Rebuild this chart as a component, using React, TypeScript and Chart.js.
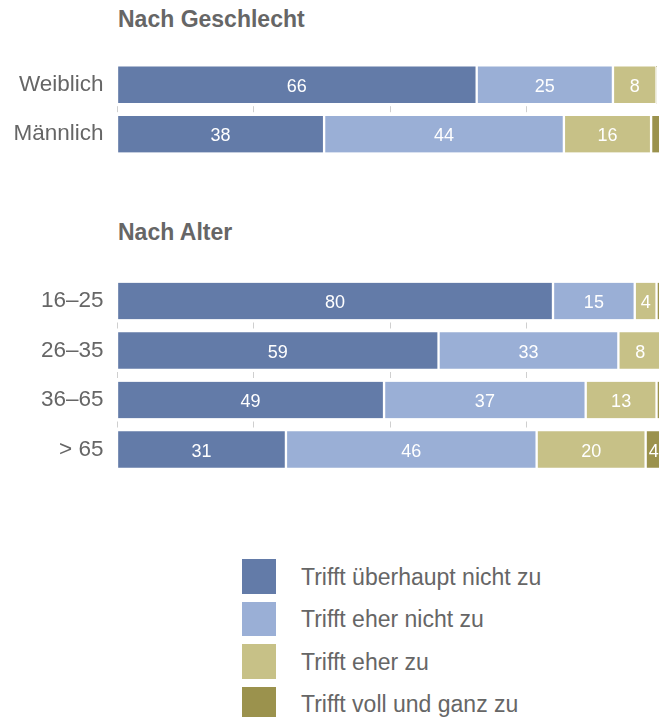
import React, { useEffect, useRef } from "react";
import { Chart, registerables } from "chart.js";

Chart.register(...registerables);

// ---- data ----
const genderTitle = "Nach Geschlecht";
const ageTitle = "Nach Alter";
const seriesNames = [
  "Trifft überhaupt nicht zu",
  "Trifft eher nicht zu",
  "Trifft eher zu",
  "Trifft voll und ganz zu",
];
const seriesColors = ["#637ba8", "#9aafd6", "#c7c187", "#9b924d"];

const genderCategories = ["Weiblich", "Männlich"];
const genderNotAtAll = [66, 38];
const genderRatherNot = [25, 44];
const genderRather = [8, 16];
const genderFully = [0, 2];

const ageCategories = ["16–25", "26–35", "36–65", "> 65"];
const ageNotAtAll = [80, 59, 49, 31];
const ageRatherNot = [15, 33, 37, 46];
const ageRather = [4, 8, 13, 20];
const ageFully = [1, 0, 2, 4];

const xTickValues = [0, 25, 50, 75, 100];
const minLabelValue = 3;

// ---- styles ----
const FONT = '"Liberation Sans", Arial, Helvetica, sans-serif';
const TEXT = "#666666";

const rowTicksPlugin = {
  id: "rowTicks",
  beforeDatasetsDraw(chart: any) {
    const { ctx } = chart;
    const x = chart.scales.x;
    const y = chart.scales.y;
    const n = chart.data.labels.length;
    ctx.save();
    ctx.strokeStyle = "#cfcfcf";
    ctx.lineWidth = 1;
    for (let i = 0; i < n - 1; i++) {
      const yc = y.getPixelForValue(i);
      for (const v of xTickValues) {
        const px = Math.round(x.getPixelForValue(v)) + 0.5;
        ctx.beginPath();
        ctx.moveTo(px, yc + 21.5);
        ctx.lineTo(px, yc + 27.5);
        ctx.stroke();
      }
    }
    ctx.restore();
  },
};

const valueLabelsPlugin = {
  id: "valueLabels",
  afterDatasetsDraw(chart: any) {
    const { ctx, chartArea } = chart;
    ctx.save();
    ctx.fillStyle = "#ffffff";
    ctx.font = `18px ${FONT}`;
    ctx.textAlign = "center";
    ctx.textBaseline = "alphabetic";
    chart.data.datasets.forEach((ds: any, di: number) => {
      const meta = chart.getDatasetMeta(di);
      meta.data.forEach((bar: any, i: number) => {
        const v = ds.data[i];
        if (v < minLabelValue) return;
        const { x, y, base } = bar.getProps(["x", "y", "base"], true);
        const left = Math.max(Math.min(x, base), chartArea.left);
        const right = Math.min(Math.max(x, base), chartArea.right);
        ctx.fillText(String(v), (left + right) / 2, y + 7.2);
      });
    });
    ctx.restore();
  },
};

function makeChart(
  canvas: HTMLCanvasElement,
  labels: string[],
  series: number[][],
  padTop: number,
  padBottom: number
) {
  return new Chart(canvas, {
    type: "bar",
    data: {
      labels,
      datasets: series.map((d, i) => ({
        label: seriesNames[i],
        data: d,
        backgroundColor: seriesColors[i],
        borderColor: "#ffffff",
        borderWidth: { left: 1.5, right: 1.5, top: 0, bottom: 0 },
        borderSkipped: false,
        barThickness: 36.5,
      })),
    },
    options: {
      indexAxis: "y",
      responsive: false,
      animation: false,
      devicePixelRatio: 1,
      layout: { padding: { top: padTop, bottom: padBottom, left: 0, right: 0 } },
      plugins: {
        legend: { display: false },
        tooltip: { enabled: false },
        title: { display: false },
      },
      scales: {
        x: { type: "linear", stacked: true, min: 0, max: 100, display: false },
        y: {
          type: "category",
          stacked: true,
          grid: { display: false, drawTicks: false },
          border: { display: false },
          ticks: { color: TEXT, font: { family: FONT, size: 22.5 }, padding: 13.5 },
          afterFit: (s: any) => {
            s.width = 117;
          },
        },
      },
    } as any,
    plugins: [rowTicksPlugin, valueLabelsPlugin],
  });
}

export default function App() {
  const genderRef = useRef<HTMLCanvasElement>(null);
  const ageRef = useRef<HTMLCanvasElement>(null);

  useEffect(() => {
    const c1 = makeChart(
      genderRef.current!,
      genderCategories,
      [genderNotAtAll, genderRatherNot, genderRather, genderFully],
      59.95,
      31.05
    );
    const c2 = makeChart(
      ageRef.current!,
      ageCategories,
      [ageNotAtAll, ageRatherNot, ageRather, ageFully],
      76.25,
      35.75
    );
    return () => {
      c1.destroy();
      c2.destroy();
    };
  }, []);

  const titleStyle: React.CSSProperties = {
    position: "absolute",
    left: 118,
    font: `bold 23px ${FONT}`,
    lineHeight: "23px",
    color: TEXT,
    whiteSpace: "nowrap",
    margin: 0,
  };

  return (
    <div
      style={{
        position: "absolute",
        left: 0,
        top: 0,
        width: 659,
        height: 717,
        overflow: "hidden",
        background: "#ffffff",
      }}
    >
      <div style={{ ...titleStyle, top: 8.2 }}>{genderTitle}</div>
      <div style={{ ...titleStyle, top: 221.0 }}>{ageTitle}</div>
      <canvas
        ref={genderRef}
        width={662}
        height={190}
        style={{ position: "absolute", left: 0, top: 0, display: "block" }}
      />
      <canvas
        ref={ageRef}
        width={662}
        height={310}
        style={{ position: "absolute", left: 0, top: 200, display: "block" }}
      />
      {seriesNames.map((name, i) => {
        const top = 559.3 + i * 42.47;
        return (
          <React.Fragment key={name}>
            <div
              style={{
                position: "absolute",
                left: 241.5,
                top,
                width: 34.5,
                height: 34.5,
                background: seriesColors[i],
              }}
            />
            <div
              style={{
                position: "absolute",
                left: 301,
                top: top + 6.3,
                font: `23px ${FONT}`,
                lineHeight: "23px",
                color: TEXT,
                whiteSpace: "nowrap",
              }}
            >
              {name}
            </div>
          </React.Fragment>
        );
      })}
    </div>
  );
}
